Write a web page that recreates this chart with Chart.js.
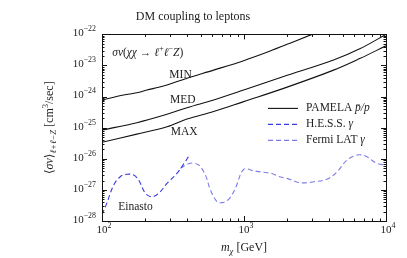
<!DOCTYPE html>
<html>
<head>
<meta charset="utf-8">
<script src="https://cdn.jsdelivr.net/npm/chart.js@4/dist/chart.umd.min.js"></script>
<style>
  html, body { margin: 0; padding: 0; background: #fff; }
</style>
</head>
<body>
<canvas id="chart" width="407" height="258"></canvas>
<script>
// PAMELA pbar/p bounds (mass in GeV, <sigma v> in cm^3/s)
const minMass = [100, 142, 176, 207, 251, 287, 397, 611, 995, 1450, 2010, 3010, 4000];
const minVals = [7.8e-25, 1.12e-24, 1.33e-24, 1.62e-24, 2.0e-24, 2.35e-24, 3.9e-24, 7.1e-24, 1.43e-23, 2.65e-23, 4.8e-23, 1.0e-22, 1.8e-22];

const medMass = [100, 176, 287, 397, 611, 995, 1900, 4275, 6590, 10000];
const medVals = [8.4e-26, 1.45e-25, 2.7e-25, 4.4e-25, 7.8e-25, 1.62e-24, 4.4e-24, 1.5e-23, 3.5e-23, 1.0e-22];

const maxMass = [100, 176, 287, 397, 611, 995, 1900, 4275, 6590, 10000];
const maxVals = [3.4e-26, 6.2e-26, 1.07e-25, 1.9e-25, 3.3e-25, 6.9e-25, 1.84e-24, 7.1e-24, 1.7e-23, 4.3e-23];

// gamma-ray bounds (Einasto profile)
const hessMass = [100, 108, 121, 135, 150, 167, 181, 202, 225, 251, 287, 337, 386, 407, 414];
const hessVals = [1.6e-28, 3.7e-28, 1.45e-27, 2.7e-27, 3.2e-27, 3.0e-27, 2.1e-27, 7.8e-28, 6.0e-28, 7.8e-28, 1.62e-27, 3.4e-27, 8.1e-27, 1.17e-26, 1.23e-26];

const fermiMass = [357, 419, 480, 535, 580, 645, 700, 780, 869, 995, 1170, 1303, 1452, 1619, 1803, 2009, 2494, 3093, 3843, 4519, 5311, 6250, 7160, 8640, 10000];
const fermiVals = [5.0e-27, 7.2e-27, 6.3e-27, 3.0e-27, 1.0e-27, 4.2e-28, 3.9e-28, 5.0e-28, 1.12e-27, 4.6e-27, 4.1e-27, 3.8e-27, 3.55e-27, 3.2e-27, 2.6e-27, 2.35e-27, 1.7e-27, 1.82e-27, 2.2e-27, 3.8e-27, 9.1e-27, 1.32e-26, 1.23e-26, 7.1e-27, 6.3e-27];

const xExps = [2, 3, 4];
const yExps = [-28, -27, -26, -25, -24, -23, -22];

// text placed at data coordinates (left edge, vertical middle)
const notes = [
  { x: 118, y: 2.5e-23, parts: [['σv', 'i'], ['(', 'n'], ['χχ', 'i'], [' → ', 'n'], ['ℓ', 'i'], ['+', 'sup'], ['ℓ', 'i'], ['−', 'sup'], ['Z', 'i'], [')', 'n']] },
  { x: 298, y: 4.9e-24, parts: [['MIN', 'n']] },
  { x: 301, y: 7.7e-25, parts: [['MED', 'n']] },
  { x: 305, y: 7.2e-26, parts: [['MAX', 'n']] },
  { x: 130, y: 2.8e-28, parts: [['Einasto', 'n']] }
];

const HESS_COLOR = '#3a3ae0';
const FERMI_COLOR = '#7c7ce8';
const INK = '#222';
const SERIF = '"Liberation Serif", "DejaVu Serif", serif';

const legendItems = [
  { parts: [['PAMELA ', 'n'], ['p\u0304/p', 'i']], color: '#111', dash: [] },
  { parts: [['H.E.S.S. ', 'n'], ['γ', 'i']], color: HESS_COLOR, dash: [5, 3] },
  { parts: [['Fermi LAT ', 'n'], ['γ', 'i']], color: FERMI_COLOR, dash: [5, 3] }
];

function pts(xs, ys) {
  return xs.map((x, i) => ({ x: x, y: ys[i] }));
}

// mixed-style text runs: n normal, i italic, sup / sub small
function fontFor(style, size) {
  const small = (size * 0.72).toFixed(1);
  if (style === 'i') return 'italic ' + size + 'px ' + SERIF;
  if (style === 'sup' || style === 'sub') return small + 'px ' + SERIF;
  if (style === 'isub') return 'italic ' + small + 'px ' + SERIF;
  return size + 'px ' + SERIF;
}
function runWidth(ctx, parts, size) {
  let w = 0;
  parts.forEach(p => { ctx.font = fontFor(p[1], size); w += ctx.measureText(p[0]).width; });
  return w;
}
function drawRun(ctx, parts, x, y, size) {
  ctx.textBaseline = 'middle';
  ctx.textAlign = 'left';
  let cx = x;
  parts.forEach(p => {
    ctx.font = fontFor(p[1], size);
    let dy = 0;
    if (p[1] === 'sup') dy = -size * 0.38;
    if (p[1] === 'sub' || p[1] === 'isub') dy = size * 0.3;
    ctx.fillText(p[0], cx, y + dy);
    cx += ctx.measureText(p[0]).width;
  });
}
function powParts(e) {
  return [['10', 'n'], [e < 0 ? '−' + (-e) : String(e), 'sup']];
}

const framePlugin = {
  id: 'frame',
  afterDraw(chart) {
    const ctx = chart.ctx;
    const a = chart.chartArea;
    const xs = chart.scales.x, ys = chart.scales.y;
    ctx.save();
    ctx.strokeStyle = '#111';
    ctx.fillStyle = INK;
    ctx.lineWidth = 1;
    ctx.strokeRect(Math.round(a.left) + 0.5, Math.round(a.top) + 0.5, Math.round(a.right - a.left), Math.round(a.bottom - a.top));

    // inward ticks on all four sides
    ctx.beginPath();
    xExps.forEach((e, k) => {
      for (let m = 1; m <= 9; m++) {
        if (k === xExps.length - 1 && m > 1) break;
        const px = Math.round(xs.getPixelForValue(m * Math.pow(10, e))) + 0.5;
        const len = m === 1 ? 5 : 2.5;
        ctx.moveTo(px, a.bottom); ctx.lineTo(px, a.bottom - len);
        ctx.moveTo(px, a.top); ctx.lineTo(px, a.top + len);
      }
    });
    yExps.forEach((e, k) => {
      for (let m = 1; m <= 9; m++) {
        if (k === yExps.length - 1 && m > 1) break;
        const py = Math.round(ys.getPixelForValue(m * Math.pow(10, e))) + 0.5;
        const len = m === 1 ? 5 : 2.5;
        ctx.moveTo(a.left, py); ctx.lineTo(a.left + len, py);
        ctx.moveTo(a.right, py); ctx.lineTo(a.right - len, py);
      }
    });
    ctx.stroke();

    // tick labels
    const size = 11;
    xExps.forEach(e => {
      const parts = powParts(e);
      const w = runWidth(ctx, parts, size);
      drawRun(ctx, parts, xs.getPixelForValue(Math.pow(10, e)) - w / 2 + 2, a.bottom + 9, size);
    });
    yExps.forEach(e => {
      const parts = powParts(e);
      const w = runWidth(ctx, parts, size);
      drawRun(ctx, parts, a.left - 6 - w, ys.getPixelForValue(Math.pow(10, e)) - 1, size);
    });

    // axis titles
    const xt = [['m', 'i'], ['χ', 'isub'], [' [GeV]', 'n']];
    drawRun(ctx, xt, (a.left + a.right) / 2 - runWidth(ctx, xt, 12) / 2, 248, 12);

    const yt = [['⟨', 'n'], ['σv', 'i'], ['⟩', 'n'], ['ℓ+ℓ−Z', 'isub'], [' [cm', 'n'], ['3', 'sup'], ['/sec]', 'n']];
    ctx.save();
    ctx.translate(50, (a.top + a.bottom) / 2);
    ctx.rotate(-Math.PI / 2);
    drawRun(ctx, yt, -runWidth(ctx, yt, 12) / 2, 0, 12);
    ctx.restore();

    // annotations placed through the scales
    notes.forEach(n => {
      drawRun(ctx, n.parts, xs.getPixelForValue(n.x), ys.getPixelForValue(n.y), 11.5);
    });

    // legend inside plot
    legendItems.forEach((it, i) => {
      const y = a.top + 74 + i * 16;
      ctx.beginPath();
      ctx.strokeStyle = it.color;
      ctx.lineWidth = 1.1;
      ctx.setLineDash(it.dash);
      ctx.moveTo(a.left + 166, y);
      ctx.lineTo(a.left + 196, y);
      ctx.stroke();
      ctx.setLineDash([]);
      drawRun(ctx, it.parts, a.left + 204, y, 11.5);
    });
    ctx.restore();
  }
};

function lineSet(label, data, color, dash) {
  return {
    label: label,
    data: data,
    borderColor: color,
    borderWidth: 1.1,
    borderDash: dash,
    pointRadius: 0,
    tension: 0.35,
    fill: false
  };
}

new Chart(document.getElementById('chart').getContext('2d'), {
  type: 'line',
  data: {
    datasets: [
      lineSet('MIN', pts(minMass, minVals), '#111', []),
      lineSet('MED', pts(medMass, medVals), '#111', []),
      lineSet('MAX', pts(maxMass, maxVals), '#111', []),
      lineSet('H.E.S.S. γ', pts(hessMass, hessVals), HESS_COLOR, [5, 3]),
      lineSet('Fermi LAT γ', pts(fermiMass, fermiVals), FERMI_COLOR, [5, 3])
    ]
  },
  options: {
    responsive: false,
    animation: false,
    devicePixelRatio: 1,
    layout: { padding: { right: 21 } },
    plugins: {
      legend: { display: false },
      tooltip: { enabled: false },
      title: {
        display: true,
        text: 'DM coupling to leptons',
        color: INK,
        font: { family: SERIF, size: 12, weight: 'normal' },
        padding: { top: 10, bottom: 10 }
      }
    },
    scales: {
      x: {
        type: 'logarithmic',
        min: 100,
        max: 10000,
        ticks: { display: false },
        grid: { display: false },
        border: { display: false },
        afterFit(s) { s.height = 37; }
      },
      y: {
        type: 'logarithmic',
        min: 1e-28,
        max: 1e-22,
        ticks: { display: false },
        grid: { display: false },
        border: { display: false },
        afterFit(s) { s.width = 102; }
      }
    }
  },
  plugins: [framePlugin]
});
</script>
</body>
</html>
